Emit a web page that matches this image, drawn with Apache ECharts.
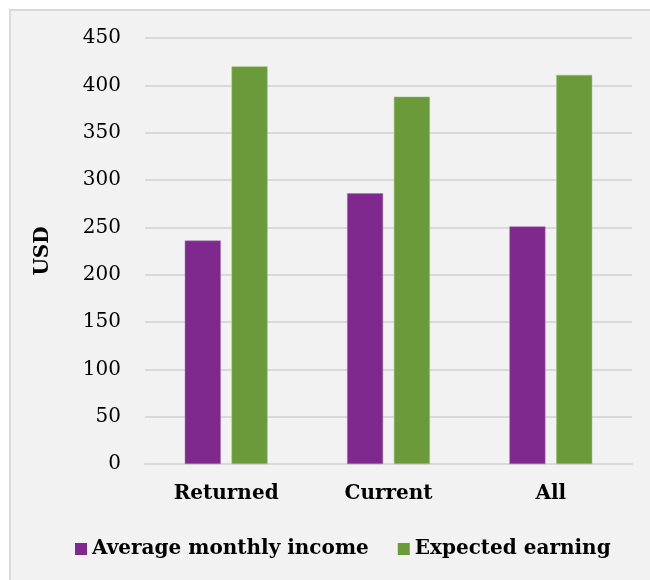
<!DOCTYPE html>
<html>
<head>
<meta charset="utf-8">
<script src="https://cdn.jsdelivr.net/npm/echarts@6/dist/echarts.min.js"></script>
<style>
    html, body { margin: 0; padding: 0; background: #ffffff; }
    #chart { width: 650px; height: 580px; }
</style>
</head>
<body>
<div id="chart"></div>
<script>
    const categories = ['Returned', 'Current', 'All'];
    const avgIncome = [236, 286, 251];
    const expectedEarning = [420, 388, 411];
    const yTicks = { min: 0, max: 450, interval: 50 };

    const serif = 'DejaVu Serif';

    const chart = echarts.init(document.getElementById('chart'));
    const option = {
        backgroundColor: '#ffffff',
        animation: false,
        graphic: [{
            type: 'rect',
            left: 9,
            top: 9,
            shape: { width: 660, height: 600 },
            style: { fill: '#f2f2f2', stroke: '#d9d9d9', lineWidth: 2 },
            z: -10
        }],
        grid: {
            left: 145,
            right: 18,
            top: 38,
            bottom: 116
        },
        legend: {
            left: 70,
            top: 534,
            itemWidth: 12,
            itemHeight: 12,
            itemGap: 29,
            icon: 'rect',
            itemStyle: { borderWidth: 0 },
            textStyle: {
                fontFamily: serif,
                fontWeight: 'bold',
                fontSize: 20,
                color: '#000000'
            },
            data: ['Average monthly income', 'Expected earning']
        },
        xAxis: {
            type: 'category',
            data: categories,
            axisLine: { lineStyle: { color: '#d9d9d9', width: 2 } },
            axisTick: { show: false },
            axisLabel: {
                margin: 20,
                fontFamily: serif,
                fontWeight: 'bold',
                fontSize: 20,
                color: '#000000'
            }
        },
        yAxis: {
            type: 'value',
            min: yTicks.min,
            max: yTicks.max,
            interval: yTicks.interval,
            name: 'USD',
            nameLocation: 'middle',
            nameGap: 92,
            nameRotate: 90,
            nameTextStyle: {
                fontFamily: serif,
                fontWeight: 'bold',
                fontSize: 20,
                color: '#000000'
            },
            axisLine: { show: false },
            axisTick: { show: false },
            splitLine: { lineStyle: { color: '#d9d9d9', width: 2 } },
            axisLabel: {
                margin: 24,
                fontFamily: serif,
                fontSize: 20,
                color: '#000000'
            }
        },
        series: [
            {
                name: 'Average monthly income',
                type: 'bar',
                data: avgIncome,
                barWidth: 36,
                barGap: '30%',
                itemStyle: { color: '#7f288d', borderColor: '#a775b0', borderWidth: 0.5 }
            },
            {
                name: 'Expected earning',
                type: 'bar',
                data: expectedEarning,
                barWidth: 36,
                barGap: '30%',
                itemStyle: { color: '#6a9a3a', borderColor: '#9cc07a', borderWidth: 0.5 }
            }
        ]
    };
    chart.setOption(option);

    window.onresize = function () {
        chart.resize();
    };
</script>
</body>
</html>
